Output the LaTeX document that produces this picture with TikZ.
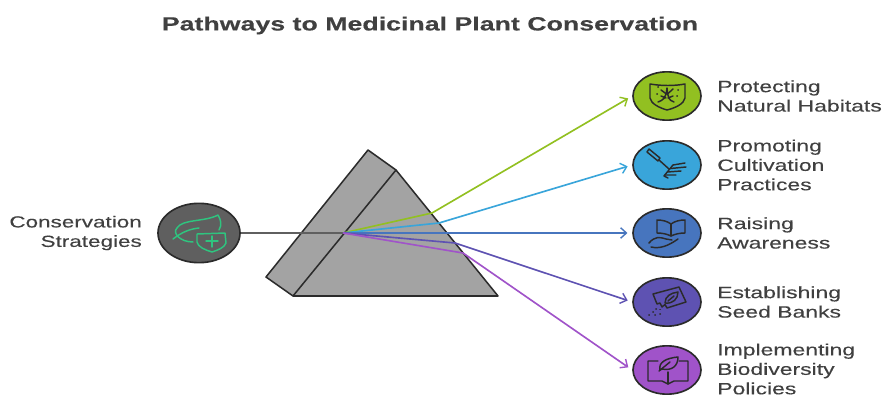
\documentclass[tikz,border=0pt]{standalone}
\usepackage{fontspec}
\setmainfont[FakeStretch=1.4,FakeBold=0.2]{Liberation Sans}
\usetikzlibrary{arrows.meta,positioning,shapes.geometric}
\definecolor{habitat}{HTML}{92C021}
\definecolor{cultivate}{HTML}{39A5DA}
\definecolor{aware}{HTML}{4775BE}
\definecolor{seedbank}{HTML}{5E52B2}
\definecolor{policy}{HTML}{A053C9}
\definecolor{prismgray}{HTML}{A3A3A3}
\definecolor{darkline}{HTML}{2B2B2B}
\definecolor{sourcegray}{HTML}{5F5F5F}
\definecolor{leafgreen}{HTML}{2FC47F}
\definecolor{inktext}{HTML}{404040}

\begin{document}
\begin{tikzpicture}[
    x=0.03cm, y=-0.03cm,
    >={Straight Barb[length=5pt,width=9pt,line width=1.2pt]},
    optionnode/.style={ellipse, draw=darkline, line width=1.4pt, minimum width=2.04cm,
                       minimum height=1.45cm, inner sep=0pt},
    sourcenode/.style={ellipse, draw=darkline, fill=sourcegray, line width=1.4pt,
                       minimum width=2.46cm, minimum height=1.78cm, inner sep=0pt},
    optionlabel/.style={anchor=west, align=left, inner sep=0pt, text=inktext,
                        font=\fontsize{14}{16.6}\selectfont},
    beam/.style={line width=1.4pt, shorten >=4pt},
    icon/.style={draw=darkline, line width=1.25pt, line join=round, line cap=round},
    seeddot/.style={draw=darkline, line width=1.6pt, line cap=round},
    leafline/.style={draw=leafgreen, line width=1.25pt, line join=round, line cap=round},
]
\useasboundingbox (0,0) rectangle (882,396);

% Title
\node[font=\bfseries\fontsize{16.3}{18}\selectfont, text=inktext] (title) at (430,25.5) {Pathways to Medicinal Plant Conservation};

% ---- Prism ----
\draw[draw=darkline, fill=prismgray, line width=1.3pt, line join=round]
    (368,150) -- (396,170) -- (498,296) -- (293,296) -- (266,277) -- cycle;
\draw[draw=darkline, line width=1.3pt] (396,170) -- (293,296);

% ---- Nodes ----
\node[sourcenode] (source) at (199,233) {};
\node[optionnode, fill=habitat]   (habitats)  at (667,96)  {};
\node[optionnode, fill=cultivate] (cultivation) at (667,165) {};
\node[optionnode, fill=aware]     (awareness) at (667,233) {};
\node[optionnode, fill=seedbank]  (seeds)     at (667,302) {};
\node[optionnode, fill=policy]    (policies)  at (667,370) {};

% ---- Labels ----
\node[optionlabel, align=right, anchor=east, font=\fontsize{13.7}{16.6}\selectfont] (sourcelabel) at (142,233) {Conservation\\Strategies};
\node[optionlabel] (lab1) at (717,96)  {Protecting\\Natural Habitats};
\node[optionlabel] (lab2) at (717,165) {Promoting\\Cultivation\\Practices};
\node[optionlabel] (lab3) at (717,233) {Raising\\Awareness};
\node[optionlabel] (lab4) at (717,302) {Establishing\\Seed Banks};
\node[optionlabel] (lab5) at (717,369) {Implementing\\Biodiversity\\Policies};

% ---- Beams ----
\coordinate (focus) at (343,233);
\coordinate (exit1) at (432,213);
\coordinate (exit2) at (439,223);
\coordinate (exit4) at (455,243);
\coordinate (exit5) at (463,253);

\draw[line width=1.5pt, color=sourcegray] (source) -- (focus);
\draw[beam, ->, color=habitat]   (focus) -- (exit1) -- (habitats.west);
\draw[beam, ->, color=cultivate] (focus) -- (exit2) -- (cultivation.west);
\draw[beam, ->, color=aware]     (focus) -- (awareness.west);
\draw[beam, ->, color=seedbank]  (focus) -- (exit4) -- (seeds.west);
\draw[beam, ->, color=policy]    (focus) -- (exit5) -- (policies.west);

% ---- Source icon ----
\draw[leafline] (173,239) .. controls (182,232) and (190,229) .. (199,228);
\draw[leafline] (193,242) .. controls (180,242) and (172,233) .. (177,228)
    .. controls (182,219) and (205,222) .. (218,215) .. controls (221,220) and (222,225) .. (219,230);
\draw[leafline] (197,234) -- (225,233) -- (226,243) .. controls (224,248) and (218,250) .. (212,252)
    .. controls (205,250) and (198,247) .. (197,242) -- cycle;
\draw[leafline] (212,236) -- (212,247) (206,241) -- (218,241);

% ---- Shield icon ----
\draw[icon] (650,84) .. controls (662,86) and (674,86) .. (685,84) -- (685,98)
    .. controls (684,104) and (675,108) .. (667,110) .. controls (660,108) and (651,104) .. (650,98) -- cycle;
\draw[icon] (658,102) .. controls (663,100) and (666,99) .. (667,88) .. controls (668,99) and (669,100) .. (674,102);
\draw[icon] (666.5,94) -- (661,90) (667.5,94) -- (673,89) (666,98) -- (661,96) (668,98) -- (673,96);
\draw[seeddot] (658,87) -- (658.2,87) (657,94) -- (657.2,94) (678,90) -- (678.2,90) (677,96) -- (677.2,96);

% ---- Rake icon ----
\draw[icon] (647,152) -- (649,149) -- (660,158) -- (658,161) -- cycle;
\draw[icon] (659,160) -- (669,169);
\draw[icon] (673,165) -- (664,176) -- (668,178);
\draw[icon] (673,165) -- (685,163) (670.5,168.5) -- (686,167) (667.5,172) -- (681,171) (665,175) -- (676,175);

% ---- Book and hand icon ----
\draw[icon] (671,224) .. controls (667,221) and (662,220) .. (657,220) -- (657,233) .. controls (662,233) and (667,234) .. (671,236)
    .. controls (675,234) and (680,233) .. (685,233) -- (685,220) .. controls (680,220) and (675,221) .. (671,224) -- cycle;
\draw[icon] (671,224) -- (671,236);
\draw[icon] (649,243) .. controls (655,236) and (660,237) .. (666,239) -- (672,240)
    (651,247) .. controls (660,249) and (668,246) .. (678,239);

% ---- Seed packet icon ----
\draw[icon] (653,294) -- (679,287) -- (686,302) -- (667,308) -- (665,304.5) -- (662,307) -- (660,303) -- (657,304) -- cycle;
\draw[icon] (665,303) .. controls (665,296) and (671,293) .. (678,292) .. controls (678,299) and (673,304) .. (665,303);
\draw[icon] (668,301) -- (674,296);
\draw[seeddot] (653,312) -- (653.2,312) (656,309) -- (656.2,309) (660,314) -- (660.2,314)
    (649,315) -- (649.2,315) (655,315) -- (655.2,315) (660,309.5) -- (660.2,309.5);

% ---- Book and leaf icon ----
\draw[icon] (658,361) -- (648,361) -- (648,381) -- (662,381) -- (668,384) -- (674,381) -- (688,381) -- (688,361) -- (679,361);
\draw[icon] (668,372) -- (668,384);
\draw[icon] (660,370) .. controls (658,362) and (667,358) .. (678,357) .. controls (678,366) and (672,371) .. (662,369) -- (660,370);
\draw[icon] (659,371) -- (670,362);
\end{tikzpicture}
\end{document}
